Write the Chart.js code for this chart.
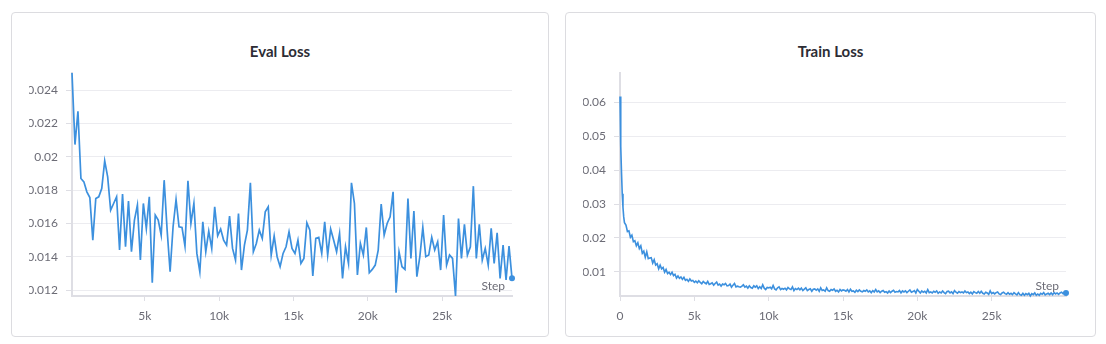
<!DOCTYPE html>
<html><head><meta charset="utf-8">
<script src="https://cdn.jsdelivr.net/npm/chart.js@4/dist/chart.umd.min.js"></script>
<style>
html,body{margin:0;padding:0;background:#fff;}
body{width:1106px;height:344px;position:relative;overflow:hidden;font-family:Lato,sans-serif;}
.card{position:absolute;top:12px;height:325px;border:1px solid #dcdce0;border-radius:4px;box-sizing:border-box;background:#fff;}
#card1{left:11px;width:538px;}
#card2{left:565px;width:531px;}
.title{position:absolute;top:41px;line-height:20px;text-align:center;font-weight:bold;font-size:15px;font-family:Lato,sans-serif;color:#2d2d35;}
#t1{left:11px;width:538px;}
#t2{left:565px;width:531px;}
canvas{position:absolute;top:13px;}
#evalCanvas{left:29px;}
#trainCanvas{left:583px;}
</style></head>
<body>
<div class="card" id="card1"></div>
<div class="card" id="card2"></div>
<div class="title" id="t1">Eval Loss</div>
<div class="title" id="t2">Train Loss</div>
<canvas id="evalCanvas" width="518" height="323"></canvas>
<canvas id="trainCanvas" width="511" height="323"></canvas>
<script>
// ---------- data ----------
const evalSteps = [
100,300,500,700,900,1100,1300,1500,1700,1900,
2100,2300,2500,2700,2900,3100,3300,3500,3700,3900,
4100,4300,4500,4700,4900,5100,5300,5500,5700,5900,
6100,6300,6500,6700,6900,7100,7300,7500,7700,7900,
8100,8300,8500,8700,8900,9100,9300,9500,9700,9900,
10100,10300,10500,10700,10900,11100,11300,11500,11700,11900,
12100,12300,12500,12700,12900,13100,13300,13500,13700,13900,
14100,14300,14500,14700,14900,15100,15300,15500,15700,15900,
16100,16300,16500,16700,16900,17100,17300,17500,17700,17900,
18100,18300,18500,18700,18900,19100,19300,19500,19700,19900,
20100,20300,20500,20700,20900,21100,21300,21500,21700,21900,
22100,22300,22500,22700,22900,23100,23300,23500,23700,23900,
24100,24300,24500,24700,24900,25100,25300,25500,25700,25900,
26100,26300,26500,26700,26900,27100,27300,27500,27700,27900,
28100,28300,28500,28700,28900,29100,29300,29500,29700
];
const evalLoss = [
0.02504,0.02074,0.02274,0.0187,0.0185,0.0179,0.01756,0.0150,0.0175,0.0176,
0.0181,0.01976,0.0188,0.0168,0.0172,0.0176,0.0144,0.01776,0.0146,0.01734,
0.0143,0.0162,0.0171,0.0138,0.0172,0.0157,0.0176,0.01244,0.0165,0.0162,
0.0153,0.0186,0.0156,0.0131,0.0158,0.01744,0.0158,0.01576,0.01464,0.01856,
0.0160,0.0172,0.0142,0.0131,0.0161,0.0143,0.01554,0.0145,0.0170,0.01526,
0.01566,0.0150,0.0147,0.01644,0.0145,0.0138,0.0166,0.0132,0.0147,0.0156,
0.01844,0.0143,0.0148,0.0156,0.0151,0.0167,0.0170,0.0141,0.01524,0.0140,
0.0134,0.0142,0.0146,0.0155,0.0145,0.0142,0.0150,0.0136,0.0139,0.01604,
0.0156,0.01284,0.0151,0.01516,0.0142,0.0161,0.0141,0.01566,0.0150,0.0143,
0.0154,0.0127,0.0146,0.0136,0.01844,0.0172,0.0129,0.0148,0.0141,0.01576,
0.01304,0.01324,0.0135,0.0144,0.01716,0.0153,0.0160,0.0164,0.0179,0.01184,
0.0143,0.0134,0.01324,0.0175,0.0139,0.01674,0.0128,0.0140,0.01576,0.0140,
0.0141,0.01516,0.0144,0.0149,0.0132,0.0165,0.0135,0.0141,0.0139,0.01164,
0.0163,0.0139,0.01594,0.0141,0.0146,0.01824,0.0139,0.01594,0.0138,0.0145,
0.0135,0.0157,0.0136,0.01544,0.0127,0.0147,0.0126,0.01464,0.0127
];
const evalYTicks = [0.012,0.014,0.016,0.018,0.02,0.022,0.024];
const evalXTicks = [5000,10000,15000,20000,25000];
const evalYRange = [0.01164,0.02504];

const trainSteps = [
0,50,100,150,200,250,300,
400,500,600,700,800,900,1000,
1100,1200,1300,1400,1500,1600,1700,1800,1900,2000,
2100,2200,2300,2400,2500,2600,2700,2800,2900,3000,
3100,3200,3300,3400,3500,3600,3700,3800,3900,4000,
4100,4200,4300,4400,4500,4600,4700,4800,4900,5000,
5100,5200,5300,5400,5500,5600,5700,5800,5900,6000,
6100,6200,6300,6400,6500,6600,6700,6800,6900,7000,
7100,7200,7300,7400,7500,7600,7700,7800,7900,8000,
8100,8200,8300,8400,8500,8600,8700,8800,8900,9000,
9100,9200,9300,9400,9500,9600,9700,9800,9900,10000,
10100,10200,10300,10400,10500,10600,10700,10800,10900,11000,
11100,11200,11300,11400,11500,11600,11700,11800,11900,12000,
12100,12200,12300,12400,12500,12600,12700,12800,12900,13000,
13100,13200,13300,13400,13500,13600,13700,13800,13900,14000,
14100,14200,14300,14400,14500,14600,14700,14800,14900,15000,
15100,15200,15300,15400,15500,15600,15700,15800,15900,16000,
16100,16200,16300,16400,16500,16600,16700,16800,16900,17000,
17100,17200,17300,17400,17500,17600,17700,17800,17900,18000,
18100,18200,18300,18400,18500,18600,18700,18800,18900,19000,
19100,19200,19300,19400,19500,19600,19700,19800,19900,20000,
20100,20200,20300,20400,20500,20600,20700,20800,20900,21000,
21100,21200,21300,21400,21500,21600,21700,21800,21900,22000,
22100,22200,22300,22400,22500,22600,22700,22800,22900,23000,
23100,23200,23300,23400,23500,23600,23700,23800,23900,24000,
24100,24200,24300,24400,24500,24600,24700,24800,24900,25000,
25100,25200,25300,25400,25500,25600,25700,25800,25900,26000,
26100,26200,26300,26400,26500,26600,26700,26800,26900,27000,
27100,27200,27300,27400,27500,27600,27700,27800,27900,28000,
28100,28200,28300,28400,28500,28600,28700,28800,28900,29000,
29100,29200,29300,29400,29500,29600,29700,29800,29900,30000
];
const trainLoss = [
0.0617,0.0470,0.0395,0.0330,0.0290,0.0262,0.0245,
0.0238,0.0219,0.0221,0.0202,0.0208,0.0189,0.0192,
0.0177,0.0186,0.0169,0.0177,0.0155,0.0161,0.0143,0.0159,0.0139,0.0141,
0.0142,0.0126,0.0136,0.0120,0.0124,0.0109,0.0120,0.0109,0.0113,0.0099,
0.0107,0.0095,0.0099,0.0092,0.0099,0.0089,0.0093,0.0082,0.0088,0.0081,
0.0085,0.0078,0.0084,0.0075,0.0078,0.0072,0.0079,0.0073,0.0075,0.0069,
0.0073,0.0068,0.0074,0.0069,0.0065,0.0072,0.0068,0.0065,0.0072,0.0063,
0.0065,0.0068,0.0061,0.0066,0.0070,0.0061,0.0064,0.0058,0.0064,0.0062,
0.0066,0.0059,0.0060,0.0064,0.0055,0.0061,0.0066,0.0056,0.0058,0.0056,
0.0055,0.0058,0.0062,0.0055,0.0058,0.0052,0.0059,0.0054,0.0052,0.0059,
0.0055,0.0059,0.0051,0.0056,0.0051,0.0062,0.0052,0.0048,0.0054,0.0053,
0.0055,0.0050,0.0060,0.0050,0.0047,0.0053,0.0056,0.0048,0.0051,0.0049,
0.0052,0.0047,0.0054,0.0050,0.0048,0.0056,0.0045,0.0051,0.0048,0.0052,
0.0047,0.0052,0.0045,0.0049,0.0053,0.0045,0.0048,0.0050,0.0043,0.0049,
0.0050,0.0046,0.0050,0.0043,0.0053,0.0045,0.0047,0.0043,0.0053,0.0045,
0.0043,0.0048,0.0046,0.0050,0.0043,0.0046,0.0041,0.0048,0.0044,0.0047,
0.0046,0.0043,0.0048,0.0041,0.0049,0.0043,0.0044,0.0040,0.0046,0.0042,
0.0047,0.0043,0.0041,0.0045,0.0043,0.0047,0.0041,0.0044,0.0039,0.0045,
0.0041,0.0048,0.0041,0.0044,0.0039,0.0043,0.0045,0.0040,0.0042,0.0038,
0.0044,0.0039,0.0043,0.0046,0.0040,0.0042,0.0041,0.0045,0.0038,0.0044,
0.0041,0.0044,0.0039,0.0043,0.0047,0.0040,0.0042,0.0045,0.0038,0.0048,
0.0043,0.0038,0.0044,0.0040,0.0043,0.0038,0.0048,0.0039,0.0041,0.0038,
0.0043,0.0040,0.0044,0.0037,0.0041,0.0038,0.0044,0.0039,0.0036,0.0042,
0.0043,0.0038,0.0041,0.0036,0.0045,0.0040,0.0037,0.0042,0.0039,0.0041,
0.0038,0.0044,0.0039,0.0041,0.0036,0.0040,0.0035,0.0042,0.0039,0.0037,
0.0042,0.0037,0.0043,0.0037,0.0035,0.0040,0.0038,0.0034,0.0044,0.0036,
0.0039,0.0035,0.0039,0.0041,0.0035,0.0033,0.0038,0.0040,0.0036,0.0034,
0.0039,0.0034,0.0037,0.0033,0.0039,0.0035,0.0032,0.0039,0.0033,0.0031,
0.0037,0.0031,0.0036,0.0033,0.0037,0.0029,0.0036,0.0033,0.0038,0.0031,
0.0035,0.0031,0.0037,0.0034,0.0039,0.0032,0.0035,0.0037,0.0033,0.0038,
0.0033,0.0039,0.0035,0.0038,0.0034,0.0038,0.0040,0.0036,0.0040,0.0038
];
const trainYTicks = [0.01,0.02,0.03,0.04,0.05,0.06];
const trainXTicks = [0,5000,10000,15000,20000,25000];
const trainYRange = [0.0029,0.0686];

// ---------- styling ----------
const LINE = 'rgb(60,144,222)';
const GRID = '#ececf0';
const AXIS = '#dedee4';
const TICKTXT = '#6c6c76';
const FONT = {family: 'Lato, sans-serif', size: 12};

const stepLabel = {
  id: 'stepLabel',
  afterDatasetsDraw(chart) {
    const {ctx, chartArea} = chart;
    ctx.save();
    ctx.font = '12px Lato, sans-serif';
    ctx.fillStyle = TICKTXT;
    ctx.textAlign = 'right';
    ctx.textBaseline = 'alphabetic';
    ctx.fillText('Step', chartArea.right - 7, chartArea.bottom - 6);
    ctx.restore();
  }
};

function fmtY(v) { return String(+v.toFixed(4)); }
function fmtX(v) { return v === 0 ? '0' : (v / 1000) + 'k'; }

function makeChart(id, steps, values, xTicks, yTicks, yRange, yWidth, padRight, lineW) {
  new Chart(document.getElementById(id), {
    type: 'line',
    data: {
      labels: steps,
      datasets: [{
        data: values,
        borderColor: LINE,
        backgroundColor: LINE,
        borderWidth: lineW,
        tension: 0,
        clip: 6,
        pointRadius: ctx => ctx.dataIndex === values.length - 1 ? 3 : 0,
        pointHoverRadius: 0,
        pointBorderWidth: 0
      }]
    },
    options: {
      responsive: false,
      animation: false,
      devicePixelRatio: 1,
      layout: {padding: {top: 60, right: padRight, left: 0, bottom: 0}},
      plugins: {legend: {display: false}, tooltip: {enabled: false}, title: {display: false}},
      scales: {
        x: {
          type: 'linear',
          min: steps[0],
          max: steps[steps.length - 1],
          afterBuildTicks: s => { s.ticks = xTicks.map(v => ({value: v})); },
          afterFit: s => { s.height = 40; },
          grid: {drawOnChartArea: false, color: AXIS, tickLength: 5, lineWidth: 1},
          border: {display: true, color: AXIS, width: 2},
          ticks: {callback: fmtX, color: TICKTXT, font: FONT, padding: 8, maxRotation: 0, autoSkip: false}
        },
        y: {
          type: 'linear',
          min: yRange[0],
          max: yRange[1],
          afterBuildTicks: s => { s.ticks = yTicks.map(v => ({value: v})); },
          afterFit: s => { s.width = yWidth; },
          grid: {color: GRID, tickLength: 6, lineWidth: 1, tickColor: AXIS},
          border: {display: true, color: AXIS, width: 2},
          ticks: {callback: fmtY, color: TICKTXT, font: FONT, padding: 8}
        }
      }
    },
    plugins: [stepLabel]
  });
}

makeChart('evalCanvas', evalSteps, evalLoss, evalXTicks, evalYTicks, evalYRange, 43, 35, 1.7);
makeChart('trainCanvas', trainSteps, trainLoss, trainXTicks, trainYTicks, trainYRange, 37, 28, 1.6);
</script>
</body></html>
